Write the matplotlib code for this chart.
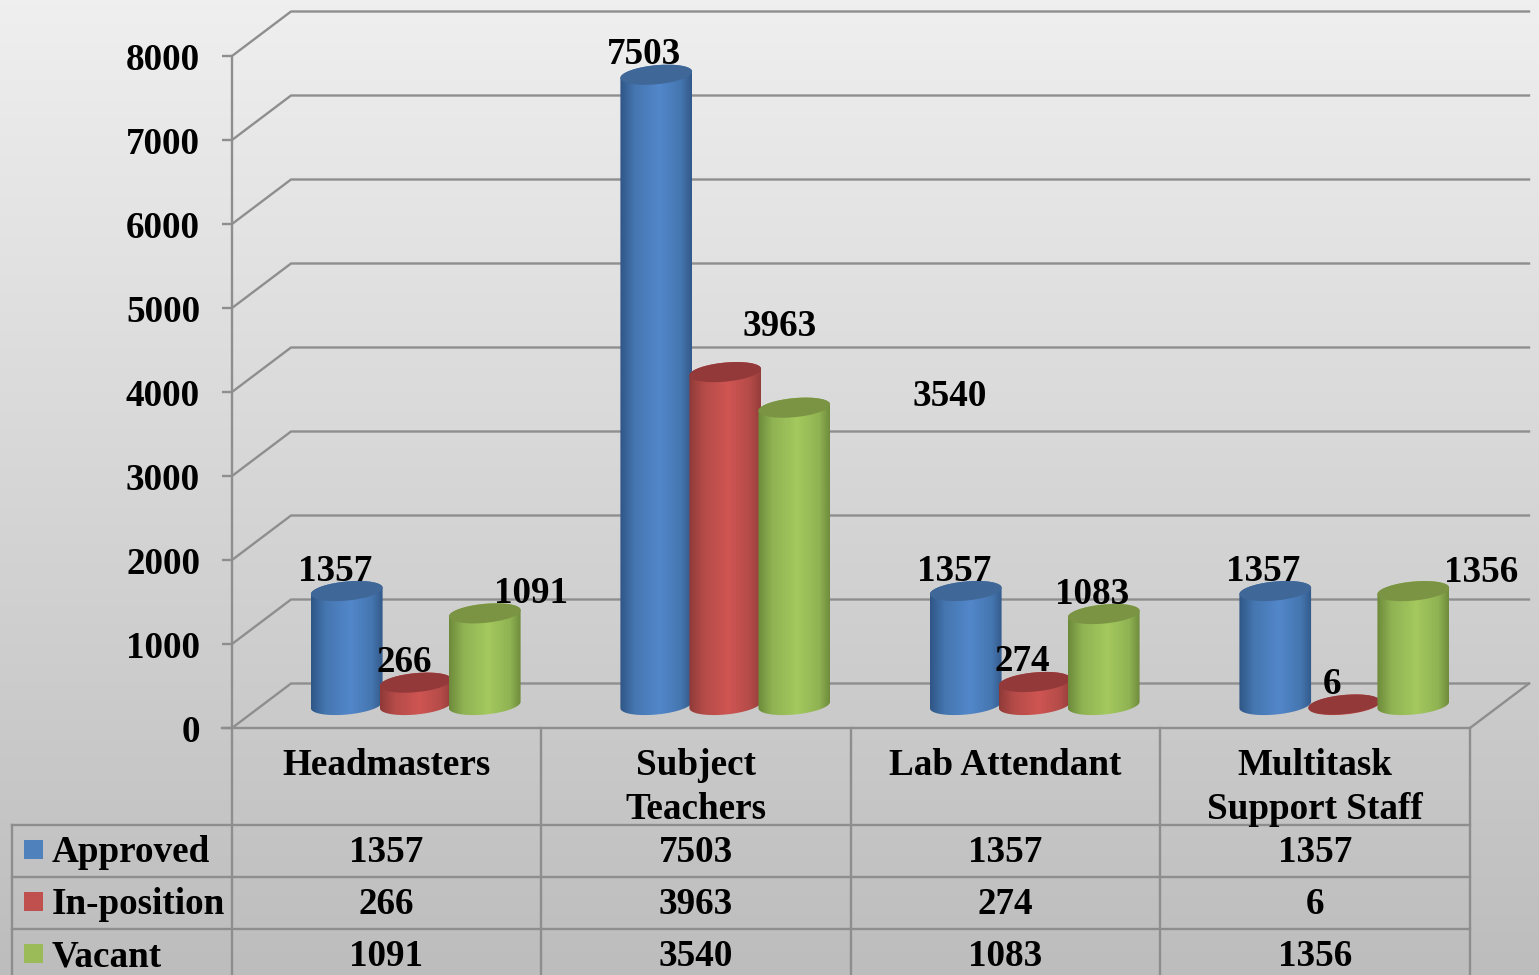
import matplotlib
matplotlib.use('Agg')
import matplotlib.pyplot as plt
import numpy as np
from matplotlib.colors import LinearSegmentedColormap
from matplotlib.patches import Polygon, Rectangle

categories = ['Headmasters', 'Subject\nTeachers', 'Lab Attendant', 'Multitask\nSupport Staff']
series_names = ['Approved', 'In-position', 'Vacant']
approved = [1357, 7503, 1357, 1357]
in_position = [266, 3963, 274, 6]
vacant = [1091, 3540, 1083, 1356]
y_ticks = [0, 1000, 2000, 3000, 4000, 5000, 6000, 7000, 8000]

W, H = 1539, 975
GRID = '#8e8e8e'
FONT = 'Liberation Serif'
FS = 26.7
plt.rcParams['font.family'] = FONT
plt.rcParams['font.weight'] = 'bold'

# chart box in pixels
X0, X1, Y0, Y8 = 232, 1470, 728, 56
px_x = 4 / (X1 - X0)
px_y = 8000 / (Y0 - Y8)
DEPTH_X, DEPTH_Y = 59, 44.5
BAR_LIFT = 23
BAR_RX, BAR_RY, BAR_TILT = 36, 9.5, np.radians(5.5)

key_colors = ['#4f81bd', '#c0504d', '#9bbb59']
top_colors = ['#3f6797', '#93393a', '#7a9443']
side_colors = [['#2f5686', '#4576b0', '#5287ca', '#4576b0', '#33598a'],
               ['#8f3a38', '#b44b48', '#cf5552', '#b44b48', '#963d3b'],
               ['#6d8a3a', '#90b353', '#a4c95e', '#90b353', '#708c3d']]
side_stops = [0, 0.2, 0.55, 0.85, 1]

# label nudges in pixels from the bar top, default is up and to the left
label_nudge = {(0, 2): (46, -20), (1, 1): (54, -46), (1, 2): (155, -11), (3, 2): (68, -19)}


def ellipse(cx, cy, t):
    """Tilted ellipse points, cx/cy in data units, the radii in pixels."""
    ex = BAR_RX * np.cos(t) * np.cos(BAR_TILT) - BAR_RY * np.sin(t) * np.sin(BAR_TILT)
    ey = BAR_RX * np.cos(t) * np.sin(BAR_TILT) + BAR_RY * np.sin(t) * np.cos(BAR_TILT)
    return np.column_stack([cx + ex * px_x, cy + ey * px_y])


def draw_cylinder(ax, cx, value, idx):
    base = BAR_LIFT * px_y
    top = value + base
    t_low = np.linspace(np.pi, 2 * np.pi, 40)
    t_up = np.linspace(0, np.pi, 40)
    body = np.vstack([ellipse(cx, base, t_low), ellipse(cx, top, t_up)])
    shape = Polygon(body, closed=True, facecolor='none', edgecolor='none', zorder=3 + idx)
    ax.add_patch(shape)
    cmap = LinearSegmentedColormap.from_list('side', list(zip(side_stops, side_colors[idx])))
    grad = np.linspace(0, 1, 128).reshape(1, -1)
    im = ax.imshow(grad, cmap=cmap, aspect='auto', zorder=3 + idx, origin='lower',
                   extent=[cx - BAR_RX * px_x, cx + BAR_RX * px_x, 0, top + 20 * px_y])
    im.set_clip_path(shape)
    lid = ellipse(cx, top, np.linspace(0, 2 * np.pi, 80))
    ax.add_patch(Polygon(lid, closed=True, facecolor=top_colors[idx], edgecolor='none', zorder=3 + idx))


fig = plt.figure(figsize=(W / 100, H / 100), dpi=100)

# background gradient
bg = fig.add_axes([0, 0, 1, 1], zorder=0)
bg.imshow(np.linspace(0, 1, 256).reshape(-1, 1), cmap=LinearSegmentedColormap.from_list('bg', ['#efefef', '#bdbdbd']),
          aspect='auto', extent=[0, W, H, 0])
bg.set_axis_off()

# value axis
ax = fig.add_axes([X0 / W, (H - Y0) / H, (X1 - X0) / W, (Y0 - Y8) / H], zorder=1)
ax.patch.set_visible(False)
for s in ax.spines.values():
    s.set_visible(False)

back_x = DEPTH_X * px_x
back_y = DEPTH_Y * px_y
for v in y_ticks:
    ax.plot([0, back_x, 4 + back_x], [v, v + back_y, v + back_y], color=GRID, lw=1.7, clip_on=False, zorder=1)
ax.plot([4, 4 + back_x], [0, back_y], color=GRID, lw=1.7, clip_on=False, zorder=1)

series = [approved, in_position, vacant]
for i, values in enumerate(series):
    for j, value in enumerate(values):
        cx = j + 0.5 + (29 + (i - 1) * 69) * px_x
        draw_cylinder(ax, cx, value, i)
        dx, dy = label_nudge.get((j, i), (-12, -20))
        ax.annotate(str(value), (cx, value + BAR_LIFT * px_y), xytext=(dx, -dy), textcoords='offset pixels',
                    ha='center', va='center', fontsize=FS, color='black', zorder=10, annotation_clip=False)

ax.set_xlim(0, 4)
ax.set_ylim(0, 8000)
ax.set_xticks([])
ax.set_yticks(y_ticks)
ax.tick_params(axis='y', length=7, width=1.7, color=GRID, pad=16, labelsize=FS)

# table under the chart, drawn in pixel coordinates
tb = fig.add_axes([0, 0, 1, 1], zorder=2)
tb.patch.set_visible(False)
tb.set_axis_off()
tb.set_xlim(0, W)
tb.set_ylim(H, 0)

col_edges = [232, 541, 851, 1160, 1470]
row_edges = [825, 877, 929]
for x in col_edges:
    tb.plot([x, x], [Y0, H], color=GRID, lw=1.7)
tb.plot([X0, X0], [Y8, Y0], color=GRID, lw=1.7)
tb.plot([X0 - 10, X1], [Y0, Y0], color=GRID, lw=1.7)
tb.plot([12, 12], [825, H], color=GRID, lw=1.7)
for y in row_edges:
    tb.plot([12, X1], [y, y], color=GRID, lw=1.7)

for j, name in enumerate(categories):
    cx = (col_edges[j] + col_edges[j + 1]) / 2
    tb.text(cx, 748, name, ha='center', va='top', fontsize=FS, linespacing=1.34, color='black')
    for i, values in enumerate(series):
        tb.text(cx, 853 + 52 * i, str(values[j]), ha='center', va='center', fontsize=FS, color='black')

for i, name in enumerate(series_names):
    tb.add_patch(Rectangle((24, 840 + 52 * i), 19, 19, facecolor=key_colors[i], edgecolor='none'))
    tb.text(52, 853 + 52 * i, name, ha='left', va='center', fontsize=FS, color='black')

fig.savefig('out.png', dpi=100)
